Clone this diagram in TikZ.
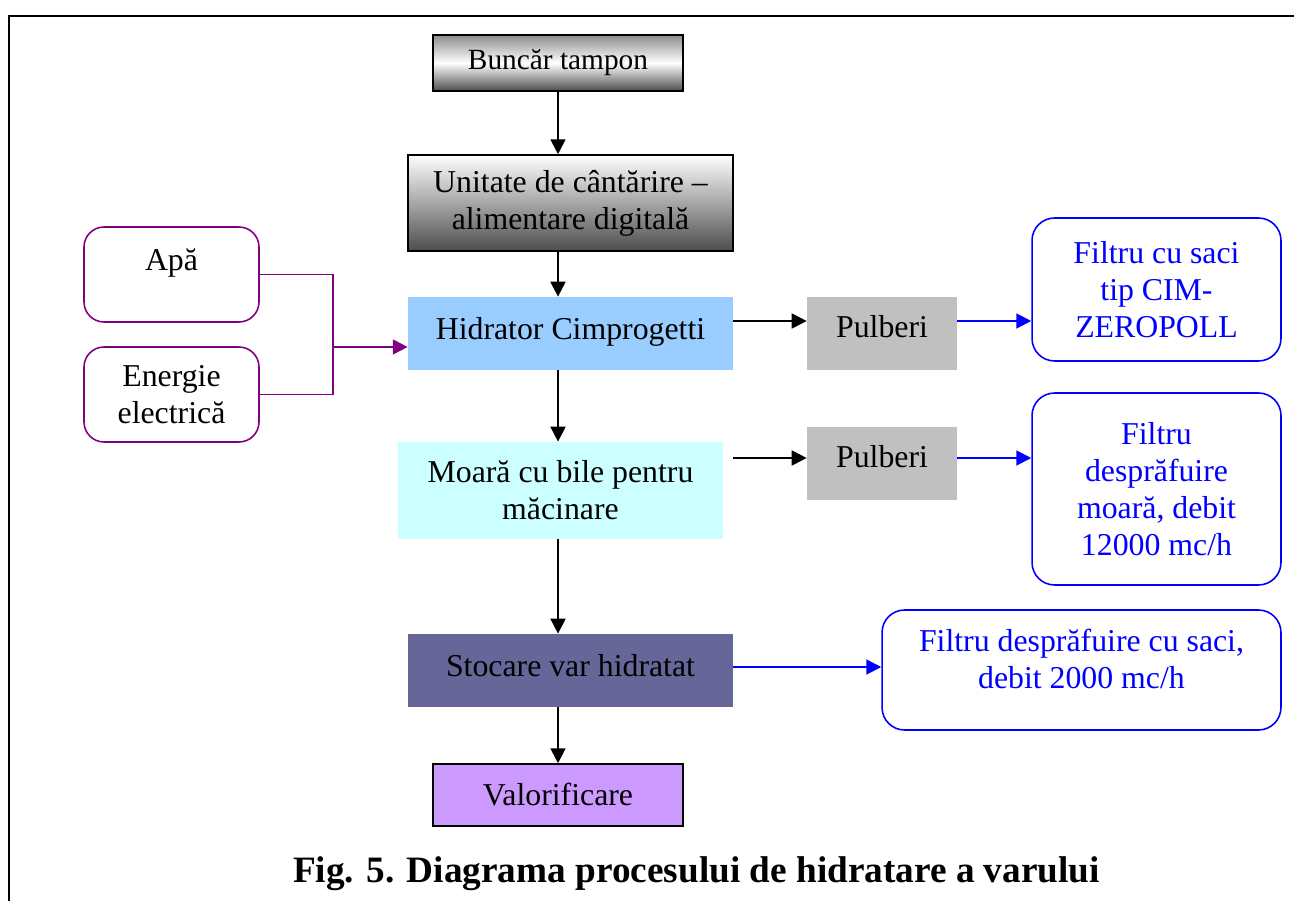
\documentclass[tikz,border=0pt]{standalone}
\usepackage{fontspec}
\setmainfont{Liberation Serif}
\usepackage{tikz}
\usetikzlibrary{positioning,arrows.meta,calc}
\definecolor{hidblue}{HTML}{99CCFF}
\definecolor{millcyan}{HTML}{CCFFFF}
\definecolor{storeblue}{HTML}{666699}
\definecolor{lilac}{HTML}{CC99FF}
\definecolor{dustgray}{HTML}{C0C0C0}
\definecolor{purple}{HTML}{800080}
\definecolor{blue}{HTML}{0000FF}

\begin{document}
\begin{tikzpicture}[
    x=0.02cm, y=-0.02cm,
    font=\fontsize{18.1}{21}\selectfont,
    box/.style={rectangle, minimum width=6.5cm, minimum height=1.46cm, align=center, inner sep=2pt},
    input/.style={draw=purple, line width=0.9pt, rounded corners=0.4cm, minimum width=3.5cm, minimum height=1.9cm, align=center},
    filter/.style={draw=blue, line width=0.9pt, rounded corners=0.45cm, text=blue, align=center},
    dust/.style={rectangle, fill=dustgray, minimum width=3cm, minimum height=1.46cm, text depth=0.3cm},
    arr/.style={-{Triangle[length=8.5pt, width=8.5pt]}, line width=1.1pt},
    parr/.style={arr, purple},
    barr/.style={arr, blue}
  ]
    \useasboundingbox (0,0) rectangle (1294,901);
    % frame
    \draw[line width=1.2pt] (9,901) -- (9,16) -- (1294,16);

    % main line
    \node[box, draw, line width=0.9pt, minimum width=5cm, minimum height=1.12cm, font=\fontsize{16.7}{21}\selectfont,
          top color=black!45, bottom color=black!70, middle color=white] (buncar) at (558,63) {Buncăr tampon};
    \node[box, draw, line width=0.9pt, minimum height=1.92cm,
          top color=white, bottom color=black!70] (cantar) at (570.5,203) {Unitate de cântărire --\\alimentare digitală};
    \node[box, fill=hidblue, text depth=0.2cm] (hidrator) at (570.5,333.5) {Hidrator Cimprogetti};
    \node[box, fill=millcyan, minimum height=1.94cm] (moara) at (560.5,490.5) {Moară cu bile pentru\\măcinare};
    \node[box, fill=storeblue, text depth=0.2cm] (stocare) at (570.5,670.5) {Stocare var hidratat};
    \node[box, draw, line width=0.9pt, fill=lilac, minimum width=5cm, minimum height=1.24cm] (valorif) at (558,795) {Valorificare};

    % inputs
    \node[input, text depth=0.6cm] (apa) at (171.5,274.5) {Apă};
    \node[input] (energie) at (171.5,394.5) {Energie\\electrică};
    \coordinate (join) at (333,347);

    % dust and filters
    \node[dust] (pulb1) at (882,333.5) {Pulberi};
    \node[dust] (pulb2) at (882,463.5) {Pulberi};
    \node[filter, minimum width=4.98cm, minimum height=2.86cm] (filtru1) at (1156.5,289.5) {Filtru cu saci\\tip CIM-\\ZEROPOLL};
    \node[filter, minimum width=4.98cm, minimum height=3.84cm] (filtru2) at (1156.5,489) {Filtru\\desprăfuire\\moară, debit\\12000 mc/h};
    \node[filter, minimum width=7.98cm, minimum height=2.4cm, text depth=0.45cm] (filtru3) at (1081.5,670) {Filtru desprăfuire cu saci,\\debit 2000 mc/h};

    % vertical flow
    \draw[arr] (buncar.south) -- (buncar.south |- cantar.north);
    \draw[arr] (buncar.south |- cantar.south) -- (buncar.south |- hidrator.north);
    \draw[arr] (buncar.south |- hidrator.south) -- (buncar.south |- moara.north);
    \draw[arr] (buncar.south |- moara.south) -- (buncar.south |- stocare.north);
    \draw[arr] (buncar.south |- stocare.south) -- (valorif.north);

    % water and energy
    \draw[purple, line width=1.1pt] (apa.east) -| (join) |- (energie.east);
    \draw[parr] (join) -- (join -| hidrator.west);

    % dust branches
    \draw[arr] ([yshift=0.25cm]hidrator.east) -- ([yshift=0.25cm]hidrator.east -| pulb1.west);
    \draw[barr] ([yshift=0.25cm]pulb1.east) -- ([yshift=0.25cm]pulb1.east -| filtru1.west);
    \draw[arr] ([xshift=0.2cm, yshift=0.65cm]moara.east) -- ([yshift=0.65cm]moara.east -| pulb2.west);
    \draw[barr] ([yshift=0.65cm]moara.east -| pulb2.east) -- ([yshift=0.65cm]moara.east -| filtru2.west);
    \draw[barr] ([yshift=0.07cm]stocare.east) -- ([yshift=0.07cm]stocare.east -| filtru3.west);

    % caption
    \node[anchor=base, font=\fontsize{21.2}{25}\selectfont\bfseries] (caption) at (696.5,882) {Fig. 5. Diagrama procesului de hidratare a varului};
  \end{tikzpicture}
\end{document}
